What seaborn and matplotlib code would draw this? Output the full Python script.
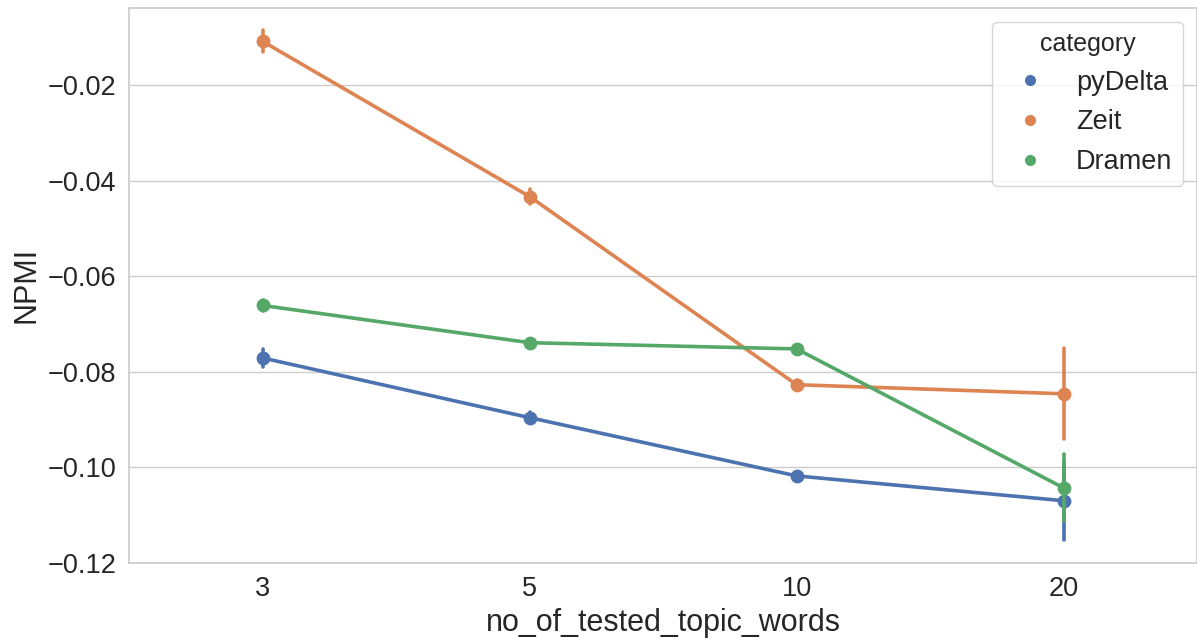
import matplotlib
matplotlib.use("Agg")
import matplotlib.pyplot as plt
from matplotlib.lines import Line2D
import numpy as np
import pandas as pd
import seaborn as sns

# Mean NPMI per number of tested topic words, with half-width of the error bar
topic_words = ["3", "5", "10", "20"]
categories = ["pyDelta", "Zeit", "Dramen"]

npmi_pydelta = [-0.0771, -0.0896, -0.1018, -0.1070]
npmi_zeit = [-0.0108, -0.0433, -0.0827, -0.0846]
npmi_dramen = [-0.0661, -0.0739, -0.0752, -0.1043]

err_pydelta = [0.0018, 0.0012, 0.0008, 0.0082]
err_zeit = [0.0023, 0.0016, 0.0009, 0.0095]
err_dramen = [0.0011, 0.0008, 0.0008, 0.0070]

means = {"pyDelta": npmi_pydelta, "Zeit": npmi_zeit, "Dramen": npmi_dramen}
errs = {"pyDelta": err_pydelta, "Zeit": err_zeit, "Dramen": err_dramen}

# Long-form table: lower and upper bound per cell, so the mean sits in the
# middle and the full range gives the error bar
rows = []
for cat in categories:
    for k, m, e in zip(topic_words, means[cat], errs[cat]):
        rows.append({"no_of_tested_topic_words": k, "NPMI": m - e, "category": cat})
        rows.append({"no_of_tested_topic_words": k, "NPMI": m + e, "category": cat})
df = pd.DataFrame(rows)

sns.set_theme(style="whitegrid")
plt.rcParams["font.family"] = ["Liberation Sans", "DejaVu Sans"]

palette = sns.color_palette("deep", 3)

fig = plt.figure(figsize=(11.97, 6.41), dpi=100)
ax = fig.add_axes([0.108, 0.122, 0.892, 0.8655])

sns.pointplot(
    data=df,
    x="no_of_tested_topic_words",
    y="NPMI",
    hue="category",
    order=topic_words,
    hue_order=categories,
    palette=palette,
    errorbar=("pi", 100),
    markersize=8,
    linewidth=2.6,
    err_kws={"linewidth": 2.6},
    legend=False,
    ax=ax,
)

ax.set_ylim(-0.12, -0.0038)
ax.set_yticks([-0.12, -0.10, -0.08, -0.06, -0.04, -0.02])
ax.set_xlabel("no_of_tested_topic_words", fontsize=22)
ax.set_ylabel("NPMI", fontsize=22)
ax.tick_params(axis="both", labelsize=19.5)

handles = [
    Line2D([], [], marker="o", linestyle="none", color=c, markersize=7)
    for c in palette
]
ax.legend(
    handles,
    categories,
    title="category",
    loc="upper right",
    fontsize=19.5,
    title_fontsize=18,
    handletextpad=0.7,
    borderaxespad=0.5,
    frameon=True,
)

fig.savefig("out.png", dpi=100)
